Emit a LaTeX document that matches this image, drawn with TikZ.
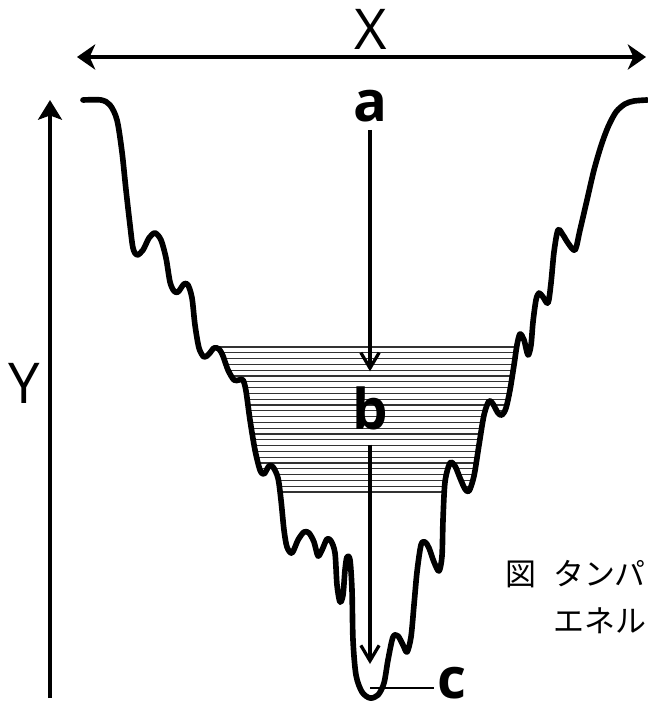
\documentclass[tikz,border=0pt]{standalone}
\usepackage{fontspec}
\setmainfont{Open Sans}
\newfontfamily\jpfont{Noto Sans CJK JP}
\usetikzlibrary{arrows.meta}

\begin{document}
\begin{tikzpicture}[
  x=0.025cm, y=-0.025cm,
  lbl/.style={inner sep=0pt, font=\fontsize{40}{40}\selectfont},
  pt/.style={inner sep=0pt, font=\fontsize{40}{40}\selectfont\bfseries},
  captxt/.style={inner sep=0pt, anchor=west, font=\jpfont\fontsize{22}{22}\selectfont},
  well/.style={line width=4pt, line join=round, line cap=round},
  hatch/.style={line width=0.75pt, black!80},
  axis/.style={line width=2.7pt, {Stealth[length=13pt, width=18pt, inset=4pt]}-{Stealth[length=13pt, width=18pt, inset=4pt]}},
  yaxis/.style={line width=2.5pt, -{Stealth[length=14pt, width=17pt, inset=3pt]}},
  fall/.style={line width=2.3pt, -{Straight Barb[length=11pt, width=13pt, line width=2.3pt]}},
]
\useasboundingbox (0,0) rectangle (647,705);

% energy landscape (funnel)
\path[save path=\wellpath] plot[smooth, tension=0.5] coordinates {
  (83,100) (101,100) (110,105) (117,120) (122,152) (126,190) (130,225)
  (133,248) (137,255) (143,250) (149,238) (155,233) (161,240) (166,258)
  (170,282) (174,291) (178,292) (184,284) (188,285) (192,298) (195,325)
  (199,348) (204,357) (209,354) (214,348) (219,349) (223,356) (228,370)
  (234,380) (239,380) (243,380) (246,391) (250,420) (255,450) (260,470)
  (264,474) (269,466) (273,467) (278,478) (281,500) (284,530) (287,547)
  (292,553) (298,540) (304,532) (309,533) (314,542) (318,556) (322,550)
  (327,539) (331,541) (335,553) (337,585) (340,602) (343,595) (345,570)
  (347,557) (350,560) (352,590) (353,640) (356,675) (362,692) (370,698)
  (378,695) (384,683) (388,660) (393,637) (398,636) (403,645) (407,652)
  (411,637) (414,605) (417,572) (421,545) (425,542) (429,548) (434,562)
  (439,571) (442,556) (443,520) (445,482) (450,463) (455,466) (460,478)
  (465,489) (469,491) (474,476) (479,445) (484,415) (489,401) (493,404)
  (498,413) (502,415) (506,408) (510,390) (514,365) (517,345) (520,334)
  (524,340) (528,355) (531,345) (533,322) (536,300) (539,293) (543,297)
  (548,303) (551,283) (554,252) (558,230) (563,235) (568,243) (575,250)
  (580,230) (587,200) (594,170) (601,146) (608,127) (616,112) (625,104)
  (634,101) (647,100)};

% hatched band
\begin{scope}
  \clip[use path=\wellpath];
  \foreach \k in {0,...,25}
    \draw[hatch] (220,{347+5.8*\k}) -- (515,{347+5.8*\k});
\end{scope}
\draw[well, use path=\wellpath];

% axes
\coordinate (xl) at (77,57);
\coordinate (xr) at (646,57);
\coordinate (ybot) at (50,698);
\coordinate (ytop) at (50,100);
\draw[axis] (xl) -- (xr);
\draw[yaxis] (ybot) -- (ytop);
\node[lbl] (X) at (371,29) {X};
\node[lbl] (Y) at (24,383) {Y};

% states
\node[pt] (a) at (370,106) {a};
\node[pt] (b) at (370,408) {b};
\node[pt] (c) at (452,683) {c};
\coordinate (ctip) at (370,664);
\coordinate (cbot) at (370,688);
\draw[fall, shorten <=5.5pt, shorten >=10.5pt] (a) -- (b);
\draw[fall, shorten <=10.5pt] (b) -- (ctip);
\draw[line width=1.8pt, shorten >=2pt] (cbot) -- (cbot -| c.west);

% caption
\node[captxt] (cap1) at (505,574) {図\hspace{12pt}タンパ};
\node[captxt] (cap2) at (553,621) {エネル};
\end{tikzpicture}
\end{document}
